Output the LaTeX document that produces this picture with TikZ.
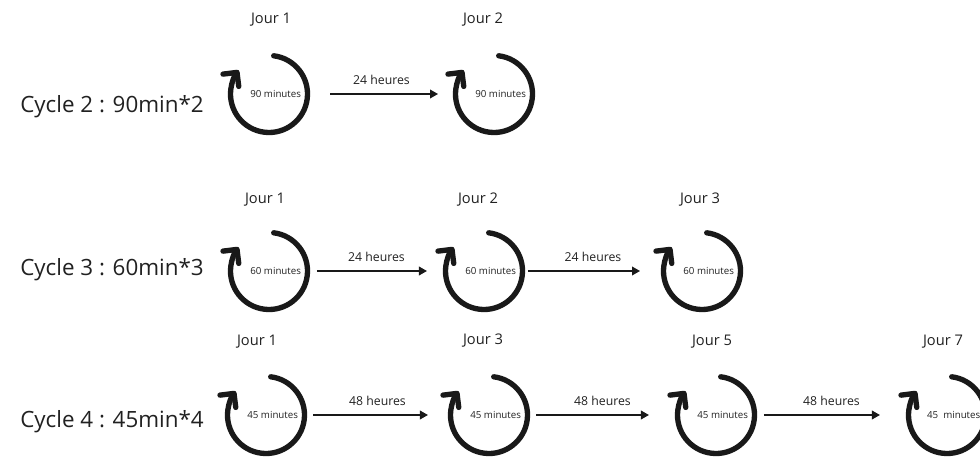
\documentclass[tikz,border=0pt]{standalone}
\usepackage{fontspec}
\setmainfont{Open Sans}
\usepackage{tikz}
\usetikzlibrary{arrows.meta}
\definecolor{tinte}{rgb}{0.1,0.1,0.1}
\definecolor{schrift}{rgb}{0.13,0.13,0.13}

\begin{document}
\begin{tikzpicture}[x=0.75pt, y=0.75pt,
    tag/.style={circle, minimum size=57.75pt, inner sep=0pt, outer sep=0pt},
    dauer/.style={font=\fontsize{7.3}{8}\selectfont, text=schrift},
    jour/.style={font=\fontsize{11}{13}\selectfont, text=schrift},
    zyklus/.style={font=\fontsize{16.8}{19}\selectfont, text=schrift, anchor=west, inner sep=0pt},
    ring/.style={tinte, line width=4pt, line cap=round, -{Straight Barb[round, length=7.5pt, width=15pt]}},
    pfeil/.style={tinte, line width=1.1pt, -{Triangle[length=6pt, width=6.5pt]}},
    pause/.style={font=\fontsize{9.2}{11}\selectfont, text=schrift, above=3pt}
]

    \useasboundingbox (0,0) rectangle (980,457);

    % Zyklus-Beschriftungen
    \node[zyklus] (z2) at (20,350) {Cycle 2 : 90min*2};
    \node[zyklus] (z3) at (20,187) {Cycle 3 : 60min*3};
    \node[zyklus] (z4) at (20,35) {Cycle 4 : 45min*4};

    % Tage mit Kreispfeilen
    \foreach \n/\x/\y/\m in {
        c11/269/363/90, c12/494/363/90,
        c21/269/186/60, c22/484/186/60, c23/702/186/60,
        c31/266/42/45, c32/489/42/45, c33/716/42/45, c34/947/42/45
    } {
        \node[tag] (\n) at (\x,\y) {};
        \node[dauer] (m\n) at ([xshift=5pt]\n) {\m{} minutes};
        \draw[ring] (\n.83) arc[start angle=83, end angle=-218, radius=28.875pt];
    }

    % Tages-Beschriftungen
    \foreach \n/\x/\y/\d in {
        j11/271/437/1, j12/483/437/2,
        j21/265/257/1, j22/478/257/2, j23/700/257/3,
        j31/257/115/1, j32/483/116/3, j33/712/115/5, j34/943/115/7
    } {
        \node[jour] (\n) at (\x,\y) {Jour \d};
    }

    % Pausen zwischen den Tagen
    \draw[pfeil, shorten <=16.9pt, shorten >=13.1pt] (c11) -- node[pause] (h1) {24 heures} (c12);
    \draw[pfeil, shorten <=7.1pt, shorten >=13.9pt] (c21) -- node[pause] (h2) {24 heures} (c22);
    \draw[pfeil, shorten <=4.1pt, shorten >=17.6pt] (c22) -- node[pause] (h3) {24 heures} (c23);
    \draw[pfeil, shorten <=6.4pt, shorten >=16.9pt] (c31) -- node[pause] (h4) {48 heures} (c32);
    \draw[pfeil, shorten <=6.4pt, shorten >=21.4pt] (c32) -- node[pause] (h5) {48 heures} (c33);
    \draw[pfeil, shorten <=7.1pt, shorten >=21.4pt] (c33) -- node[pause] (h6) {48 heures} (c34);

\end{tikzpicture}
\end{document}
